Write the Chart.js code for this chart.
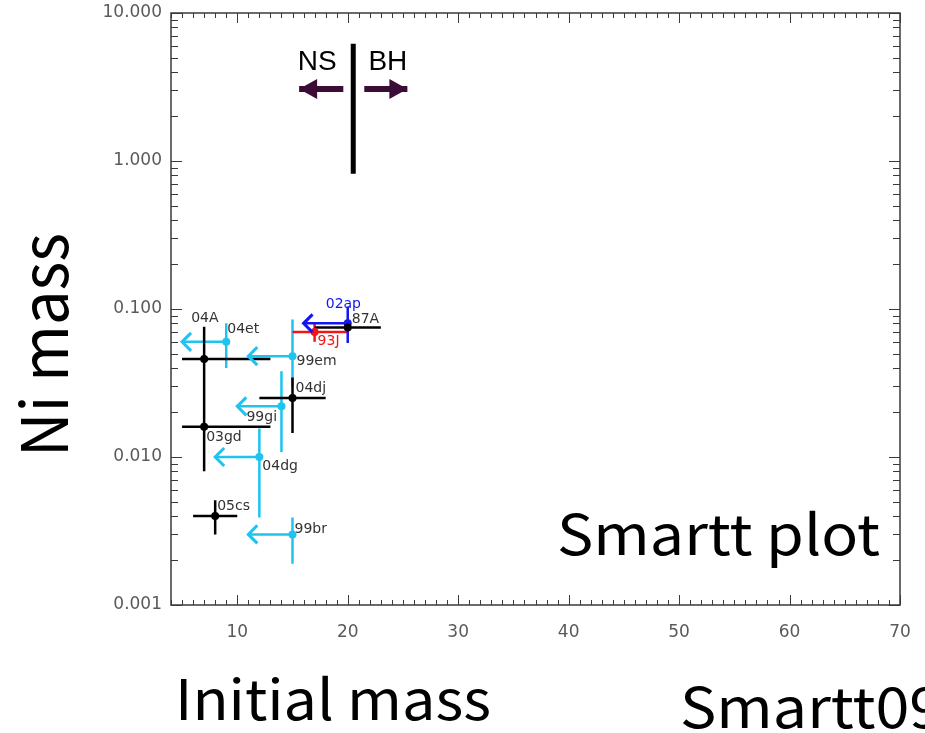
<!DOCTYPE html>
<html>
<head>
<meta charset="utf-8">
<title>Smartt plot</title>
<script src="https://cdn.jsdelivr.net/npm/chart.js@4.4.0/dist/chart.umd.min.js"></script>
<style>
  html, body { margin: 0; padding: 0; background: #fff; }
  #wrap { width: 925px; height: 733px; }
</style>
</head>
<body>
<div id="wrap"><canvas id="smarttChart" width="925" height="733"></canvas></div>
<script>
// ===== DATA =====
const xTickValues = [10, 20, 30, 40, 50, 60, 70];
const yTickValues = [0.001, 0.01, 0.1, 1, 10];

// progenitor detections (black, error bars both ways)
const detNames  = ["87A", "04A", "03gd", "04dj", "05cs"];
const detMass   = [20, 7, 7, 15, 8];
const detMassLo = [17, 5, 5, 12, 6];
const detMassHi = [23, 13, 13, 18, 10];
const detNi     = [0.075, 0.046, 0.016, 0.025, 0.004];
const detNiLo   = [0.075, 0.027, 0.008, 0.0145, 0.003];
const detNiHi   = [0.075, 0.076, 0.032, 0.0345, 0.0051];

// upper mass limits (cyan, arrow to the left)
const limNames = ["04et", "99em", "99gi", "04dg", "99br"];
const limMass  = [9, 15, 14, 12, 15];
const limArrow = [5, 11, 10, 8, 11];
const limNi    = [0.06, 0.048, 0.022, 0.010, 0.003];
const limNiLo  = [0.040, 0.030, 0.0108, 0.0039, 0.0019];
const limNiHi  = [0.080, 0.085, 0.038, 0.0156, 0.0039];

// 02ap (blue upper limit)
const apMass = [20], apArrow = [16], apNi = [0.08], apNiLo = [0.059], apNiHi = [0.104];
// 93J (red)
const jMass = [17], jMassLo = [15], jMassHi = [20], jNi = [0.07], jNiLo = [0.06], jNiHi = [0.08];

// NS / BH divide
const divideMass = [20.5, 20.5];
const divideNi   = [0.82, 6.2];
const nsArrowMass = [19.6, 15.6];
const bhArrowMass = [21.5, 25.4];
const arrowNi = 3.07;

// ===== STYLE =====
const CYAN = "#1fc3f0";
const BLUE = "#1414f5";
const RED = "#f51414";
const PURPLE = "#3a0c36";
const BIG_FONT = '"Noto Sans CJK JP", "Noto Sans", sans-serif';

// label offsets in pixels from the point
const labelNudge = {
  "87A": [4, -8], "04A": [-13, -41], "03gd": [2, 11], "04dj": [3, -10], "05cs": [2, -10],
  "04et": [1, -12], "99em": [4, 5], "99gi": [-35, 11], "04dg": [3, 9], "99br": [2, -5],
  "02ap": [-22, -19], "93J": [3, 9]
};

// ===== HELPERS =====
function segs(list) {
  const out = [];
  list.forEach(s => {
    out.push({ x: s[0], y: s[1] }, { x: s[2], y: s[3] }, { x: null, y: null });
  });
  return out;
}

const detBars = segs(detNames.flatMap((n, i) => [
  [detMassLo[i], detNi[i], detMassHi[i], detNi[i]],
  [detMass[i], detNiLo[i], detMass[i], detNiHi[i]],
]));
const limBars = segs(limNames.flatMap((n, i) => [
  [limArrow[i], limNi[i], limMass[i], limNi[i]],
  [limMass[i], limNiLo[i], limMass[i], limNiHi[i]],
]));
const apBars = segs([
  [apArrow[0], apNi[0], apMass[0], apNi[0]],
  [apMass[0], apNiLo[0], apMass[0], apNiHi[0]],
]);
const jBars = segs([
  [jMassLo[0], jNi[0], jMassHi[0], jNi[0]],
  [jMass[0], jNiLo[0], jMass[0], jNiHi[0]],
]);
const divideLine = divideMass.map((m, i) => ({ x: m, y: divideNi[i] }));
const nsBhShafts = segs([
  [nsArrowMass[0], arrowNi, nsArrowMass[1], arrowNi],
  [bhArrowMass[0], arrowNi, bhArrowMass[1], arrowNi],
]);

function lineSet(data, color, width) {
  return {
    type: "line", data, borderColor: color, borderWidth: width,
    pointRadius: 0, showLine: true, spanGaps: false, fill: false, tension: 0,
  };
}
function dotSet(xs, ys, color) {
  return {
    type: "scatter", data: xs.map((x, i) => ({ x, y: ys[i] })),
    backgroundColor: color, borderColor: color, pointRadius: 4, borderWidth: 0,
  };
}

// ===== PLUGIN: frame, inward ticks, arrow heads, texts =====
const smarttPlugin = {
  id: "smartt",
  afterDatasetsDraw(chart) {
    const { ctx, chartArea: a, scales: { x, y } } = chart;
    ctx.save();

    // frame
    ctx.strokeStyle = "#3a3a3a";
    ctx.lineWidth = 1.5;
    ctx.strokeRect(a.left, a.top, a.right - a.left, a.bottom - a.top);

    // x ticks (bottom & top)
    ctx.lineWidth = 1;
    for (let v = Math.ceil(x.min); v <= x.max; v++) {
      const px = Math.round(x.getPixelForValue(v)) + 0.5;
      const len = v % 10 === 0 ? 10 : 5;
      ctx.beginPath();
      ctx.moveTo(px, a.bottom); ctx.lineTo(px, a.bottom - len);
      ctx.moveTo(px, a.top); ctx.lineTo(px, a.top + len);
      ctx.stroke();
    }
    // y ticks (left & right)
    for (let d = -3; d <= 1; d++) {
      for (let k = 1; k <= 9; k++) {
        const v = k * Math.pow(10, d);
        if (v > y.max * 1.0001) continue;
        const py = Math.round(y.getPixelForValue(v)) + 0.5;
        const len = k === 1 ? 11 : 7;
        ctx.beginPath();
        ctx.moveTo(a.left, py); ctx.lineTo(a.left + len, py);
        ctx.moveTo(a.right, py); ctx.lineTo(a.right - len, py);
        ctx.stroke();
      }
    }

    // chevron arrow heads for upper limits
    const chevron = (m, n, color) => {
      const tx = x.getPixelForValue(m), ty = y.getPixelForValue(n);
      ctx.strokeStyle = color;
      ctx.lineWidth = 3;
      ctx.beginPath();
      ctx.moveTo(tx + 9, ty - 9); ctx.lineTo(tx, ty); ctx.lineTo(tx + 9, ty + 9);
      ctx.stroke();
    };
    limArrow.forEach((m, i) => chevron(m, limNi[i], CYAN));
    chevron(apArrow[0], apNi[0], BLUE);

    // NS / BH triangle heads
    const tri = (m, n, dir) => {
      const tx = x.getPixelForValue(m), ty = y.getPixelForValue(n);
      ctx.fillStyle = PURPLE;
      ctx.beginPath();
      ctx.moveTo(tx, ty);
      ctx.lineTo(tx - dir * 18, ty - 10);
      ctx.lineTo(tx - dir * 18, ty + 10);
      ctx.closePath();
      ctx.fill();
    };
    tri(nsArrowMass[1], arrowNi, -1);
    tri(bhArrowMass[1], arrowNi, 1);

    // point labels
    ctx.font = '14px "DejaVu Sans", sans-serif';
    ctx.textAlign = "left";
    ctx.textBaseline = "middle";
    const label = (name, m, n, color) => {
      const o = labelNudge[name] || [3, 0];
      ctx.fillStyle = color;
      ctx.fillText(name, x.getPixelForValue(m) + o[0], y.getPixelForValue(n) + o[1]);
    };
    detNames.forEach((n, i) => label(n, detMass[i], detNi[i], "#333"));
    limNames.forEach((n, i) => label(n, limMass[i], limNi[i], "#333"));
    label("02ap", apMass[0], apNi[0], BLUE);
    label("93J", jMass[0], jNi[0], RED);

    // NS / BH words
    ctx.fillStyle = "#000";
    ctx.font = '28px "Liberation Sans", sans-serif';
    ctx.textAlign = "center";
    ctx.fillText("NS", (x.getPixelForValue(nsArrowMass[0]) + x.getPixelForValue(nsArrowMass[1])) / 2 - 4, a.top + 49);
    ctx.fillText("BH", (x.getPixelForValue(bhArrowMass[0]) + x.getPixelForValue(bhArrowMass[1])) / 2 + 2, a.top + 49);

    // big texts, stretched a little sideways like the original gothic face
    ctx.textAlign = "left";
    ctx.textBaseline = "alphabetic";
    ctx.font = "56px " + BIG_FONT;
    const stretch = 323 / ctx.measureText("Smartt plot").width;
    const wide = (txt, px, py, sx) => {
      ctx.save();
      ctx.translate(px, py);
      ctx.scale(sx, 1);
      ctx.fillText(txt, 0, 0);
      ctx.restore();
    };
    wide("Smartt plot", 557, 555, stretch);
    wide("Initial mass", 175, 720, 316 / ctx.measureText("Initial mass").width);
    wide("Smartt09", 680, 728, stretch);
    ctx.save();
    ctx.translate(68, 457);
    ctx.rotate(-Math.PI / 2);
    ctx.font = "64px " + BIG_FONT;
    ctx.scale(224 / ctx.measureText("Ni mass").width, 1);
    ctx.fillText("Ni mass", 0, 0);
    ctx.restore();

    ctx.restore();
  },
};

// ===== CHART =====
window.addEventListener("load", () => {
  const ctx = document.getElementById("smarttChart").getContext("2d");
  new Chart(ctx, {
    type: "scatter",
    data: {
      datasets: [
        dotSet(detMass, detNi, "#000"),
        dotSet(apMass, apNi, BLUE),
        dotSet(jMass, jNi, RED),
        dotSet(limMass, limNi, CYAN),
        lineSet(detBars, "#000", 2.5),
        lineSet(apBars, BLUE, 2.5),
        lineSet(jBars, RED, 2.5),
        lineSet(limBars, CYAN, 2.5),
        lineSet(divideLine, "#000", 5),
        lineSet(nsBhShafts, PURPLE, 6),
      ],
    },
    options: {
      responsive: false,
      animation: false,
      layout: { padding: { top: 13, right: 25, left: 0, bottom: 0 } },
      plugins: { legend: { display: false }, tooltip: { enabled: false } },
      scales: {
        x: {
          type: "linear",
          min: 4,
          max: 70,
          grid: { display: false, drawTicks: false },
          border: { display: false },
          afterBuildTicks: (s) => { s.ticks = xTickValues.map(v => ({ value: v })); },
          afterFit: (s) => { s.height = 128; s.paddingLeft = 0; s.paddingRight = 0; },
          ticks: {
            color: "#5a5a5a",
            padding: 17,
            font: { family: "DejaVu Sans", size: 17 },
            maxRotation: 0,
          },
        },
        y: {
          type: "logarithmic",
          min: 0.001,
          max: 10,
          grid: { display: false, drawTicks: false },
          border: { display: false },
          afterBuildTicks: (s) => { s.ticks = yTickValues.map(v => ({ value: v })); },
          afterFit: (s) => { s.width = 171; s.paddingTop = 0; s.paddingBottom = 0; },
          ticks: {
            color: "#5a5a5a",
            padding: 9,
            font: { family: "DejaVu Sans", size: 17 },
            callback: (v) => Number(v).toFixed(3),
          },
        },
      },
    },
    plugins: [smarttPlugin],
  });
});
</script>
</body>
</html>
